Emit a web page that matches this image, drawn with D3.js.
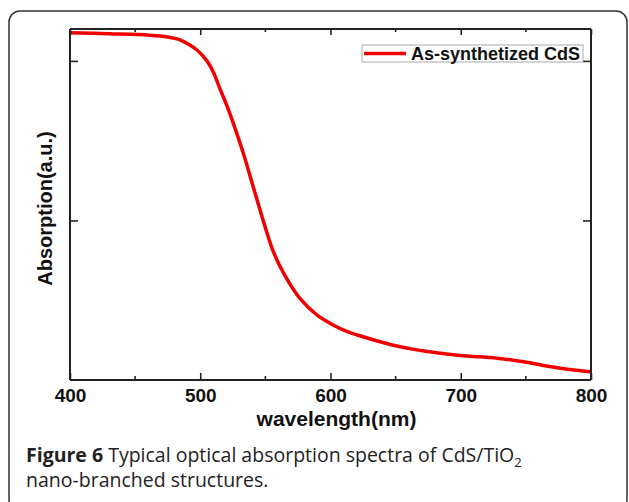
<!DOCTYPE html>
<html>
<head>
<meta charset="utf-8">
<script src="https://cdn.jsdelivr.net/npm/d3@7"></script>
<style>
  body { margin: 0; background: #fff; }
  svg { display: block; }
</style>
</head>
<body>
<div id="chart"></div>
<script>
// Absorption spectrum
const wavelength = [400, 430, 461, 475, 484.5, 492, 497.5, 505, 510, 515, 520.5, 525, 533, 540.5, 547.5, 555, 561, 569, 576.5, 589.5,
                    602, 612, 625, 638, 651, 664, 676, 689, 702, 715, 728, 740, 753, 766, 779, 792, 800];
const absorption = [2.177, 2.170, 2.161, 2.150, 2.132, 2.100, 2.068, 2.002, 1.931, 1.828, 1.718, 1.618, 1.423, 1.216, 1.022, 0.828, 0.716, 0.600, 0.512, 0.408,
                    0.345, 0.306, 0.271, 0.240, 0.213, 0.192, 0.177, 0.163, 0.152, 0.145, 0.136, 0.124, 0.108, 0.088, 0.071, 0.058, 0.052];
const xMajorTicks = [400, 500, 600, 700, 800];
const xMinorTicks = [450, 550, 650, 750];
const yTicks = [1, 2];
const seriesName = "As-synthetized CdS";

const W = 629, H = 502;
const margin = { top: 29, right: 38, bottom: 122, left: 70 };
const width = W - margin.left - margin.right;
const height = H - margin.top - margin.bottom;
const RED = "#f00000";
const AXIS = "#222";

const root = d3.select("#chart").append("svg")
  .attr("width", W).attr("height", H);

// outer figure frame (rounded, bottom edge runs off the picture)
root.append("rect")
  .attr("x", 9).attr("y", 11)
  .attr("width", 618).attr("height", 500)
  .attr("rx", 11)
  .attr("fill", "none").attr("stroke", "#333").attr("stroke-width", 1.5);

const svg = root.append("g").attr("transform", `translate(${margin.left},${margin.top})`);

const x = d3.scaleLinear().domain([400, 800]).range([0, width]);
const y = d3.scaleLinear().domain([0, 2.2]).range([height, 0]);

// curve
const data = wavelength.map((w, i) => ({ w, a: absorption[i] }));
const line = d3.line().x(d => x(d.w)).y(d => y(d.a)).curve(d3.curveCatmullRom.alpha(0.5));
svg.append("path").datum(data)
  .attr("fill", "none").attr("stroke", RED).attr("stroke-width", 3.5)
  .attr("stroke-linejoin", "round")
  .attr("d", line);

// axes: inward ticks on all four sides
const axisFont = "Liberation Sans, Arial, sans-serif";

const axBottom = svg.append("g").attr("transform", `translate(0,${height})`)
  .call(d3.axisBottom(x).tickValues(xMajorTicks).tickSize(-7).tickPadding(9).tickFormat(d3.format("d")));
axBottom.append("g").selectAll("line").data(xMinorTicks).join("line")
  .attr("x1", d => x(d)).attr("x2", d => x(d)).attr("y1", 0).attr("y2", -4);

const axTop = svg.append("g")
  .call(d3.axisTop(x).tickValues(xMajorTicks).tickSize(-6).tickFormat(""));
axTop.append("g").selectAll("line").data(xMinorTicks).join("line")
  .attr("x1", d => x(d)).attr("x2", d => x(d)).attr("y1", 0).attr("y2", 3);

const axLeft = svg.append("g")
  .call(d3.axisLeft(y).tickValues(yTicks).tickSize(-8).tickFormat(""));
const axRight = svg.append("g").attr("transform", `translate(${width},0)`)
  .call(d3.axisRight(y).tickValues(yTicks).tickSize(-8).tickFormat(""));

[axBottom, axTop, axLeft, axRight].forEach(g => {
  g.selectAll(".domain").attr("stroke", AXIS).attr("stroke-width", 2)
    .attr("d", g === axBottom || g === axTop ? `M0,0H${width}` : `M0,0V${height}`);
  g.selectAll("line").attr("stroke", AXIS).attr("stroke-width", 1.6);
});
axBottom.selectAll(".tick text")
  .attr("font-family", axisFont).attr("font-weight", "bold")
  .attr("font-size", "19px").attr("fill", "#111");

// axis titles
svg.append("text")
  .attr("x", width / 2 + 6).attr("y", height + 46)
  .attr("text-anchor", "middle")
  .attr("font-family", axisFont).attr("font-weight", "bold")
  .attr("font-size", "21px").attr("fill", "#111")
  .text("wavelength(nm)");

svg.append("text")
  .attr("transform", `translate(-18,${height / 2 + 4}) rotate(-90)`)
  .attr("text-anchor", "middle")
  .attr("font-family", axisFont).attr("font-weight", "bold")
  .attr("font-size", "20px").attr("fill", "#111")
  .text("Absorption(a.u.)");

// legend
const legend = svg.append("g").attr("transform", `translate(${width - 229},16)`);
legend.append("rect")
  .attr("width", 221).attr("height", 17)
  .attr("fill", "#fff").attr("stroke", "#aaa").attr("stroke-width", 1);
legend.append("line")
  .attr("x1", 2).attr("x2", 44).attr("y1", 8.5).attr("y2", 8.5)
  .attr("stroke", RED).attr("stroke-width", 3.5);
legend.append("text")
  .attr("x", 49).attr("y", 15)
  .attr("font-family", axisFont).attr("font-weight", "bold")
  .attr("font-size", "18px").attr("fill", "#111")
  .text(seriesName);

// caption
const capFont = "Open Sans, Noto Sans, sans-serif";
const cap1 = root.append("text")
  .attr("x", 26).attr("y", 462)
  .attr("font-family", capFont).attr("font-size", "19.5px").attr("fill", "#222");
cap1.append("tspan").attr("font-weight", "bold").text("Figure 6");
cap1.append("tspan").text(" Typical optical absorption spectra of CdS/TiO");
cap1.append("tspan").attr("font-size", "13px").attr("dy", 5).text("2");

root.append("text")
  .attr("x", 26).attr("y", 487)
  .attr("font-family", capFont).attr("font-size", "19.5px").attr("fill", "#222")
  .text("nano-branched structures.");
</script>
</body>
</html>
